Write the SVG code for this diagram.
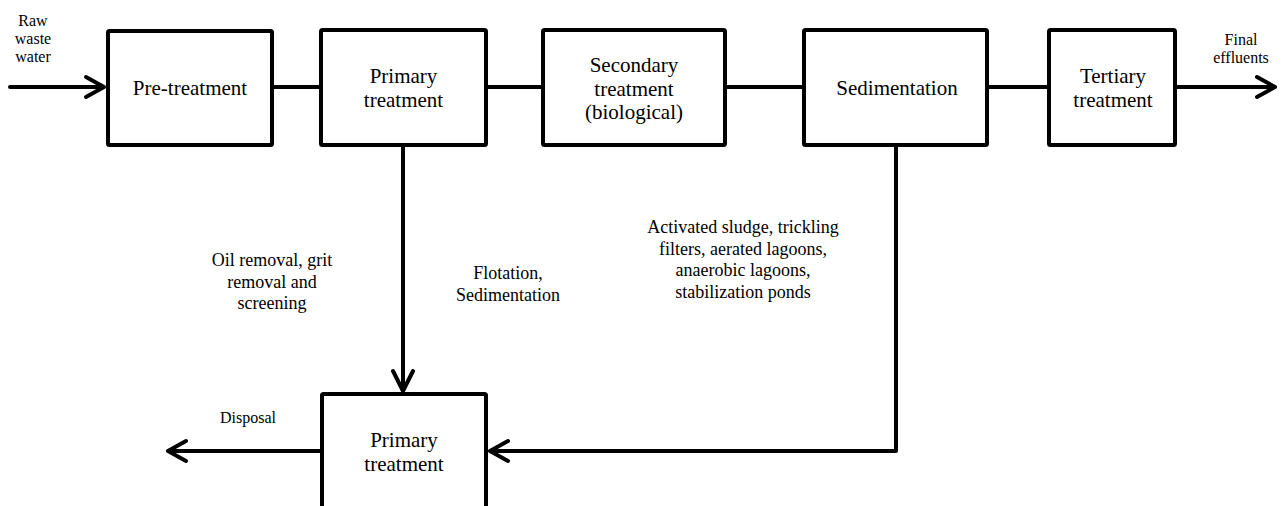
<svg xmlns="http://www.w3.org/2000/svg" width="1282" height="506" viewBox="0 0 1282 506" font-family="'Liberation Serif', 'Times New Roman', serif">
<style>
.box{fill:#fff;stroke:#000;stroke-width:4;stroke-linejoin:round}
.ln{fill:none;stroke:#000;stroke-width:4;stroke-linecap:round;stroke-linejoin:round}
.b,.l,.s{font-family:'Liberation Serif','Times New Roman',serif;fill:#000;text-anchor:middle}
.b{font-size:21px}
.l{font-size:18px}
.s{font-size:16px}
</style>
<rect width="1282" height="506" fill="#fff"/>
<g id="connectors">
<path class="ln" d="M10 87H104M86 77L104 87L86 97"/>
<path class="ln" d="M274 87H319"/>
<path class="ln" d="M488 87H541"/>
<path class="ln" d="M727 87H802"/>
<path class="ln" d="M989 87H1047"/>
<path class="ln" d="M1177 87H1275M1257 77L1275 87L1257 97"/>
<path class="ln" d="M403 147V391M393 371L403 391L413 371"/>
<path class="ln" d="M896 147V451H490M508 441L490 451L508 461"/>
<path class="ln" d="M320 451H168M186 441L168 451L186 461"/>
</g>
<g id="pretreatment"><rect class="box" x="108" y="31" width="164" height="114" rx="1.5"/><text class="b" x="190" y="95">Pre-treatment</text></g>
<g id="primary"><rect class="box" x="321" y="30" width="165" height="115" rx="1.5"/><text class="b" x="403.5" y="83">Primary</text><text class="b" x="403.5" y="107">treatment</text></g>
<g id="secondary"><rect class="box" x="543" y="30" width="182" height="115" rx="1.5"/><text class="b" x="634" y="72">Secondary</text><text class="b" x="634" y="96">treatment</text><text class="b" x="634" y="119">(biological)</text></g>
<g id="sedimentation"><rect class="box" x="804" y="30" width="183" height="115" rx="1.5"/><text class="b" x="897" y="95">Sedimentation</text></g>
<g id="tertiary"><rect class="box" x="1049" y="30" width="126" height="115" rx="1.5"/><text class="b" x="1113" y="83">Tertiary</text><text class="b" x="1113" y="107">treatment</text></g>
<g id="primary2"><rect class="box" x="322" y="394" width="164" height="130" rx="1.5"/><text class="b" x="404" y="447">Primary</text><text class="b" x="404" y="471">treatment</text></g>
<g id="labels">
<text class="s" x="33" y="26">Raw</text><text class="s" x="33" y="44">waste</text><text class="s" x="33" y="62">water</text>
<text class="s" x="1241" y="45">Final</text><text class="s" x="1241" y="63">effluents</text>
<text class="s" x="248" y="423">Disposal</text>
<text class="l" x="272" y="266">Oil removal, grit</text><text class="l" x="272" y="287.5">removal and</text><text class="l" x="272" y="309">screening</text>
<text class="l" x="508" y="279">Flotation,</text><text class="l" x="508" y="301">Sedimentation</text>
<text class="l" x="743" y="233">Activated sludge, trickling</text><text class="l" x="743" y="254.5">filters, aerated lagoons,</text><text class="l" x="743" y="276">anaerobic lagoons,</text><text class="l" x="743" y="297.5">stabilization ponds</text>
</g>
</svg>
